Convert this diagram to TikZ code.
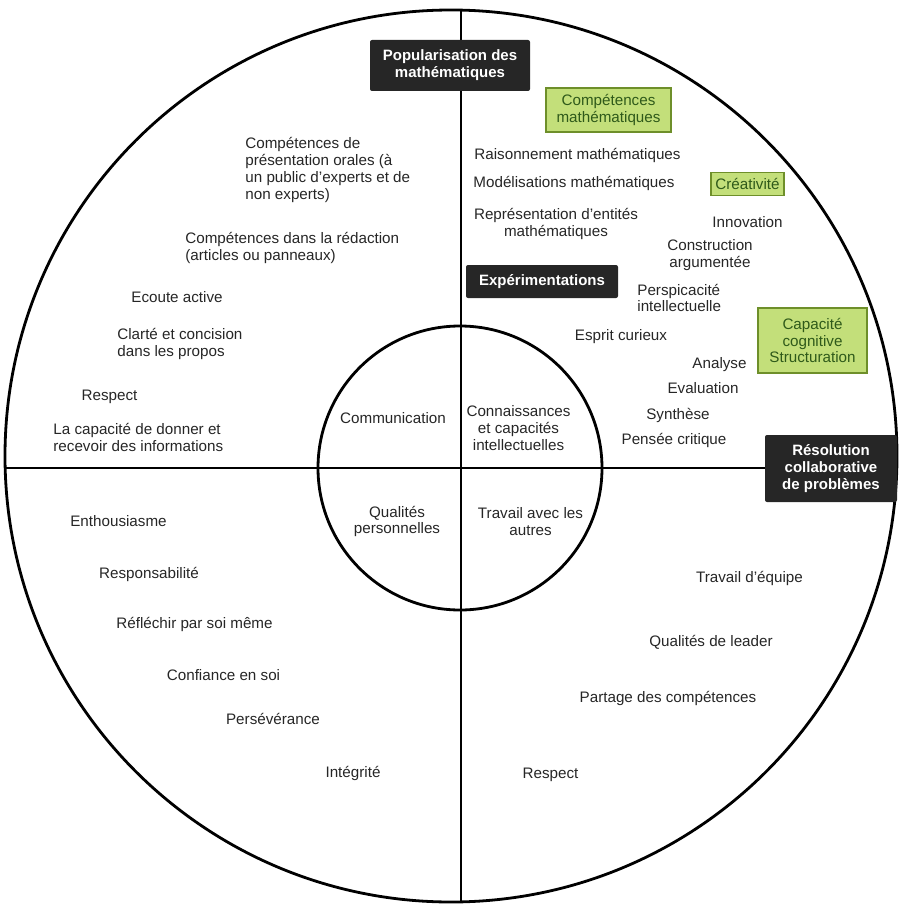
\documentclass[tikz,border=0pt]{standalone}
\usepackage{fontspec}
\setmainfont{Liberation Sans}
\usetikzlibrary{positioning}

\definecolor{boxdark}{HTML}{262626}
\definecolor{boxgreen}{HTML}{C3DF7A}
\definecolor{boxedge}{HTML}{6E8F2A}
\definecolor{boxtext}{HTML}{2F5A1A}

\tikzset{
	item/.style={font=\fontsize{7.6}{8.4}\selectfont, text=black!85, align=center, inner sep=0pt},
	itemleft/.style={item, align=left, anchor=west},
	darkbox/.style={fill=boxdark, text=white, font=\fontsize{7.5}{8.5}\selectfont\bfseries, align=center, inner sep=1pt, rounded corners=1pt},
	greenbox/.style={fill=boxgreen, draw=boxedge, line width=0.8pt, text=boxtext, font=\fontsize{7.6}{8.4}\selectfont, align=center, inner sep=1pt},
	ring/.style={circle, draw, line width=1.4pt, inner sep=0pt},
	axis/.style={line width=1.3pt},
}

\begin{document}
\begin{tikzpicture}[x=0.5pt, y=-0.5pt]
	\useasboundingbox (0,0) rectangle (901,904);

	% circles and quadrants
	\node[ring, minimum size=446pt]	(outer)	at (451,456)	{};
	\node[ring, minimum size=142pt]	(core)	at (460,468)	{};
	\coordinate (top)	at (461,10);
	\coordinate (bot)	at (461,902);
	\coordinate (west)	at (5,468);
	\coordinate (east)	at (897,468);
	\draw[axis] (top) -- (bot);
	\draw[axis] (west) -- (east);

	% centre
	\node[item]	(comm)	at (393,418)	{Communication};
	\node[item]	(conn)	at (518.5,428)	{Connaissances\\et capacités\\intellectuelles};
	\node[item]	(qual)	at (397,521.5)	{Qualités\\personnelles};
	\node[item]	(trav)	at (530.5,521.5)	{Travail avec les\\autres};

	% black headings
	\node[darkbox, minimum width=80pt, minimum height=25.5pt]	(pop)	at (450,65.5)	{Popularisation des\\mathématiques};
	\node[darkbox, minimum width=76pt, minimum height=16.5pt]	(exper)	at (542,281.5)	{Expérimentations};
	\node[darkbox, minimum width=66pt, minimum height=33.5pt]	(resol)	at (831,468.5)	{Résolution\\collaborative\\de problèmes};

	% green headings
	\node[greenbox, minimum width=62.5pt, minimum height=22pt]	(compmath)	at (608.5,110)	{Compétences\\mathématiques};
	\node[greenbox, minimum width=36.5pt, minimum height=11.5pt]	(creat)	at (747.5,184)	{Créativité};
	\node[greenbox, minimum width=54.5pt, minimum height=32.5pt]	(capcog)	at (812.5,340.5)	{Capacité\\cognitive\\Structuration};

	% top left
	\node[itemleft]	(pres)	at (245,170)	{Compétences de\\présentation orales (à\\un public d'experts et de\\non experts)};
	\node[itemleft]	(redac)	at (185,248)	{Compétences dans la rédaction\\(articles ou panneaux)};
	\node[item]		(ecoute)	at (177,297)	{Ecoute active};
	\node[itemleft]	(clarte)	at (117,344)	{Clarté et concision\\dans les propos};
	\node[item]		(respA)	at (109.5,397)	{Respect};
	\node[itemleft]	(capac)	at (53,437.5)	{La capacité de donner et\\recevoir des informations};

	% top right
	\node[item]		(raison)	at (577.5,155)	{Raisonnement mathématiques};
	\node[item]		(model)	at (574,183)	{Modélisations mathématiques};
	\node[item]		(repr)	at (556,224)	{Représentation d'entités\\mathématiques};
	\node[item]		(innov)	at (747.5,222)	{Innovation};
	\node[item]		(constr)	at (710,255)	{Construction\\argumentée};
	\node[itemleft]	(persp)	at (637,298)	{Perspicacité\\intellectuelle};
	\node[item]		(esprit)	at (621,337)	{Esprit curieux};
	\node[item]		(analyse)	at (719.5,365)	{Analyse};
	\node[item]		(evalu)	at (703,388)	{Evaluation};
	\node[item]		(synth)	at (678,415)	{Synthèse};
	\node[item]		(pensee)	at (674,440)	{Pensée critique};

	% bottom left
	\node[item]		(enthou)	at (118.5,521)	{Enthousiasme};
	\node[item]		(respons)	at (149,574)	{Responsabilité};
	\node[item]		(reflech)	at (194.5,624)	{Réfléchir par soi même};
	\node[item]		(confi)	at (223.5,675)	{Confiance en soi};
	\node[item]		(persev)	at (273,719)	{Persévérance};
	\node[item]		(integr)	at (353,773)	{Intégrité};

	% bottom right
	\node[item]		(equipe)	at (749.5,578)	{Travail d'équipe};
	\node[item]		(leader)	at (711,642)	{Qualités de leader};
	\node[item]		(partage)	at (668,698)	{Partage des compétences};
	\node[item]		(respB)	at (550.5,775)	{Respect};
\end{tikzpicture}
\end{document}
